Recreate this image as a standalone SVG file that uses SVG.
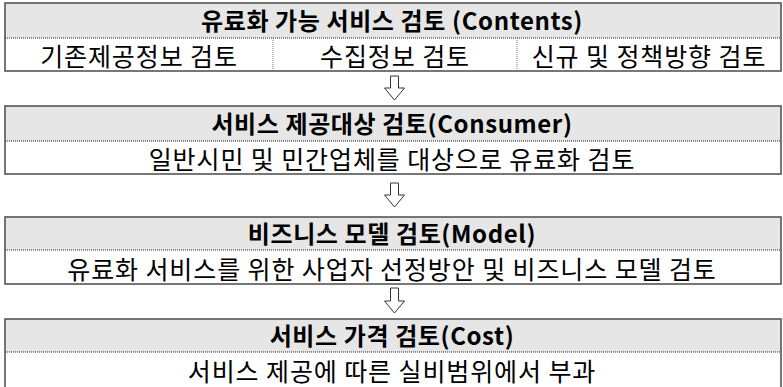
<svg xmlns="http://www.w3.org/2000/svg" width="783" height="387" viewBox="0 0 783 387">
<style>
.hdr{fill:#e6e6e6;stroke:none}
.box{fill:none;stroke:#555;stroke-width:1.6}
.sep{stroke:#222;stroke-width:1;stroke-dasharray:1 1;fill:none}
.vsep{stroke:#777;stroke-width:1;stroke-dasharray:1 1;fill:none}
.ht{font-family:"Noto Sans CJK KR","Noto Sans",sans-serif;font-weight:bold;font-size:24px;letter-spacing:0.6px;fill:#000;text-anchor:middle}
.bt{font-family:"Noto Sans CJK KR","Noto Sans",sans-serif;font-size:25px;letter-spacing:0.9px;fill:#000;text-anchor:middle}
.arr{fill:#fff;stroke:#333;stroke-width:1}
</style>
<rect width="783" height="387" fill="#fff"/>
<g id="node-contents">
<rect class="hdr" x="5" y="3" width="776" height="35"/>
<rect class="box" x="5" y="3" width="776" height="68"/>
<line class="sep" x1="5" y1="38" x2="781" y2="38"/>
<line class="vsep" x1="273" y1="38" x2="273" y2="71"/>
<line class="vsep" x1="517" y1="38" x2="517" y2="71"/>
<text class="ht" x="392" y="29.5">유료화 가능 서비스 검토 (Contents)</text>
<text class="bt" x="139" y="65.5">기존제공정보 검토</text>
<text class="bt" x="395" y="65.5">수집정보 검토</text>
<text class="bt" x="649" y="65.5">신규 및 정책방향 검토</text>
</g>
<g id="node-consumer">
<rect class="hdr" x="5" y="106" width="776" height="35"/>
<rect class="box" x="5" y="106" width="776" height="68"/>
<line class="sep" x1="5" y1="141" x2="781" y2="141"/>
<text class="ht" x="392" y="132.5">서비스 제공대상 검토(Consumer)</text>
<text class="bt" x="392" y="168.5">일반시민 및 민간업체를 대상으로 유료화 검토</text>
</g>
<g id="node-model">
<rect class="hdr" x="5" y="217" width="776" height="33"/>
<rect class="box" x="5" y="217" width="776" height="67"/>
<line class="sep" x1="5" y1="250" x2="781" y2="250"/>
<text class="ht" x="392" y="242.5">비즈니스 모델 검토(Model)</text>
<text class="bt" x="392" y="278.5">유료화 서비스를 위한 사업자 선정방안 및 비즈니스 모델 검토</text>
</g>
<g id="node-cost">
<rect class="hdr" x="5" y="319" width="776" height="33"/>
<rect class="box" x="5" y="319" width="776" height="75"/>
<line class="sep" x1="5" y1="352" x2="781" y2="352"/>
<text class="ht" x="392" y="344.5">서비스 가격 검토(Cost)</text>
<text class="bt" x="392" y="380.5">서비스 제공에 따른 실비범위에서 부과</text>
</g>
<g id="connectors">
<path class="arr" d="M390.5,76 H398.5 V88 H404.5 L394.5,100 L384.5,88 H390.5 Z"/>
<path class="arr" d="M390.5,183 H398.5 V195 H404.5 L394.5,207 L384.5,195 H390.5 Z"/>
<path class="arr" d="M390.5,288 H398.5 V301 H404.5 L394.5,313 L384.5,301 H390.5 Z"/>
</g>
</svg>
